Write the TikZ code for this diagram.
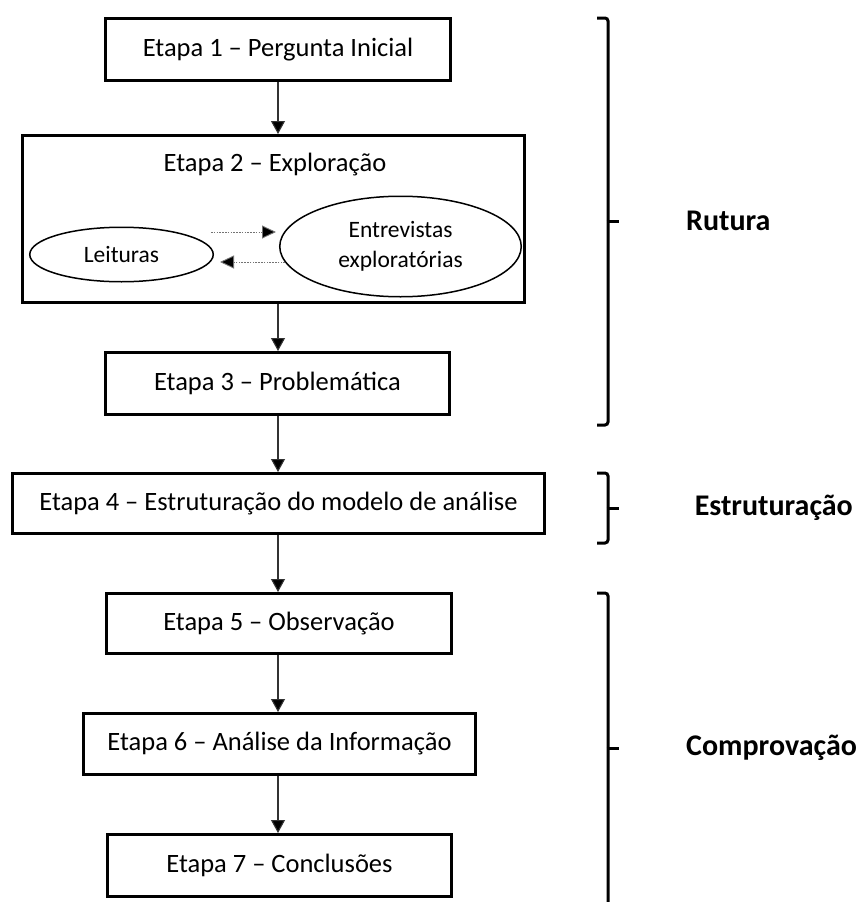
\documentclass[tikz,border=0pt]{standalone}
\usepackage{fontspec}
\setmainfont{Carlito}
\usetikzlibrary{arrows.meta,shapes.geometric}

\tikzset{
  stepbox/.style={draw=black, line width=3pt, fill=white, inner sep=0pt,
    font=\fontsize{26.5}{31}\selectfont},
  bubble/.style={draw=black, line width=1.5pt, ellipse, inner sep=0pt,
    align=center, font=\fontsize{23.5}{29.5}\selectfont},
  flow/.style={draw=black!80, line width=1.1pt,
    -{Triangle[length=13pt,width=14pt,fill=black]}},
  dotflow/.style={draw=black!55, line width=0.9pt, dash pattern=on 1.6pt off 1.2pt,
    -{Triangle[length=14pt,width=13pt,fill=black]}},
  phasebrace/.style={draw=black, line width=3pt, rounded corners=3pt},
  phaselabel/.style={inner sep=0pt,
    font=\fontsize{30}{34}\selectfont\bfseries},
}

\begin{document}
\begin{tikzpicture}[x=1pt,y=-1pt]
  \useasboundingbox (0,0) rectangle (861,902);

  % main sequence of stages
  \node[stepbox, minimum width=345pt, minimum height=62pt] (e1) at (278,49.5)
    {Etapa 1 – Pergunta Inicial};

  \node[stepbox, minimum width=502pt, minimum height=167pt] (e2) at (273.5,219) {};
  \node[inner sep=0pt, font=\fontsize{26.5}{31}\selectfont] (e2t) at (275,165)
    {Etapa 2 – Exploração};
  \node[bubble, minimum width=183.5pt, minimum height=54.5pt] (lei) at (121.5,254.5)
    {Leituras};
  \node[bubble, minimum width=241.5pt, minimum height=100.5pt] (ent) at (400.5,246.5)
    {Entrevistas\\exploratórias};

  \node[stepbox, minimum width=344pt, minimum height=62pt] (e3) at (277.5,383.5)
    {Etapa 3 – Problemática};
  \node[stepbox, minimum width=532pt, minimum height=60pt] (e4) at (278.5,503.5)
    {Etapa 4 – Estruturação do modelo de análise};
  \node[stepbox, minimum width=345pt, minimum height=60pt] (e5) at (279,623.5)
    {Etapa 5 – Observação};
  \node[stepbox, minimum width=392pt, minimum height=61pt] (e6) at (279.5,744)
    {Etapa 6 – Análise da Informação};
  \node[stepbox, minimum width=344pt, minimum height=62pt] (e7) at (279.5,865.5)
    {Etapa 7 – Conclusões};

  % vertical connectors
  \draw[flow] (e1.south) -- (e1.south |- e2.north);
  \draw[flow] (e1.south |- e2.south) -- (e1.south |- e3.north);
  \draw[flow] (e1.south |- e3.south) -- (e1.south |- e4.north);
  \draw[flow] (e1.south |- e4.south) -- (e1.south |- e5.north);
  \draw[flow] (e1.south |- e5.south) -- (e1.south |- e6.north);
  \draw[flow] (e1.south |- e6.south) -- (e1.south |- e7.north);

  % exchange between readings and exploratory interviews
  \draw[dotflow] ([xshift=-3pt,yshift=22.5pt]lei.east) -- ([xshift=-3pt,yshift=14.5pt]ent.west);
  \draw[dotflow] ([xshift=6pt,yshift=-15.5pt]ent.west) -- ([xshift=6pt,yshift=-7.5pt]lei.east);

  % phase brackets
  \coordinate (b1t) at (597,18);   \coordinate (b1b) at (597,425);
  \coordinate (b2t) at (597,473);  \coordinate (b2b) at (597,543);
  \coordinate (b3t) at (597,593);  \coordinate (b3b) at (597,910);
  \draw[phasebrace] (b1t) -| (608,321) |- (b1b);
  \draw[phasebrace] (b2t) -| (608,508) |- (b2b);
  \draw[phasebrace] (b3t) -| (608,748) |- (b3b);
  \draw[line width=3pt] (606.5,221) -- (619,221);
  \draw[line width=3pt] (606.5,508) -- (619,508);
  \draw[line width=3pt] (606.5,748) -- (619,748);

  \node[phaselabel, anchor=west] (p1) at (686,221) {Rutura};
  \node[phaselabel, anchor=east] (p2) at (853,508) {Estruturação};
  \node[phaselabel, anchor=west] (p3) at (686,748) {Comprovação};
\end{tikzpicture}
\end{document}
